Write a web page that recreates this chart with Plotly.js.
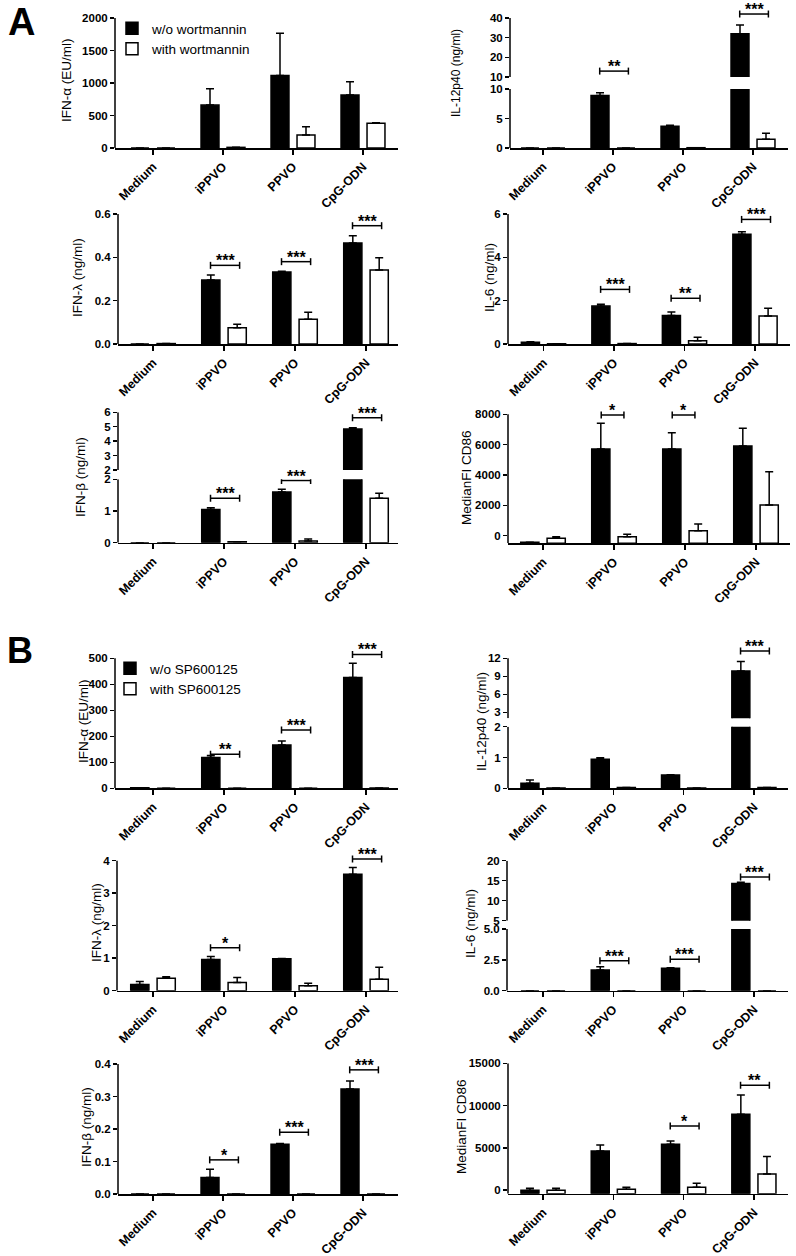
<!DOCTYPE html>
<html><head><meta charset="utf-8">
<script src="https://cdn.plot.ly/plotly-3.0.1.min.js"></script>
<style>html,body{margin:0;padding:0;background:#fff}</style>
</head><body><div id="chart" style="width:796px;height:1256px"></div>
<script>
// ---------------- DATA ----------------
const categories = ['Medium', 'iPPVO', 'PPVO', 'CpG-ODN'];
const seriesA = ['w/o wortmannin', 'with wortmannin'];
const seriesB = ['w/o SP600125', 'with SP600125'];

// Panel A (wortmannin)
const A_IFNa_wo = [0, 660, 1115, 815];
const A_IFNa_wo_err = [0, 250, 650, 205];
const A_IFNa_with = [0, 10, 200, 382];
const A_IFNa_with_err = [0, 0, 128, 8];
const A_IFNa_sig = [];
const A_IFNa_ticks = [0, 500, 1000, 1500, 2000];

const A_IL12_wo = [0, 8.9, 3.7, 32.0];
const A_IL12_wo_err = [0, 0.45, 0.15, 4.4];
const A_IL12_with = [0, 0, 0.05, 1.5];
const A_IL12_with_err = [0, 0, 0, 1.0];
const A_IL12_sig = [[1, 13.0, '**'], [3, 42.0, '***']];
const A_IL12_ticks_low = [0, 5, 10];
const A_IL12_ticks_high = [10, 20, 30, 40];

const A_IFNl_wo = [0, 0.295, 0.332, 0.466];
const A_IFNl_wo_err = [0, 0.023, 0.004, 0.034];
const A_IFNl_with = [0.002, 0.075, 0.114, 0.342];
const A_IFNl_with_err = [0, 0.016, 0.032, 0.056];
const A_IFNl_sig = [[1, 0.363, '***'], [2, 0.38, '***'], [3, 0.546, '***']];
const A_IFNl_ticks = [0, 0.2, 0.4, 0.6];
const A_IFNl_ticktext = ['0.0', '0.2', '0.4', '0.6'];

const A_IL6_wo = [0.08, 1.75, 1.31, 5.06];
const A_IL6_wo_err = [0.02, 0.08, 0.17, 0.12];
const A_IL6_with = [0.01, 0.02, 0.15, 1.29];
const A_IL6_with_err = [0, 0, 0.16, 0.36];
const A_IL6_sig = [[1, 2.52, '***'], [2, 2.11, '**'], [3, 5.75, '***']];
const A_IL6_ticks = [0, 2, 4, 6];

const A_IFNb_wo = [0, 1.05, 1.6, 4.85];
const A_IFNb_wo_err = [0, 0.05, 0.09, 0.08];
const A_IFNb_with = [0, 0.03, 0.05, 1.4];
const A_IFNb_with_err = [0, 0, 0.07, 0.16];
const A_IFNb_sig = [[1, 1.40, '***'], [2, 1.96, '***'], [3, 5.63, '***']];
const A_IFNb_ticks_low = [0, 1, 2];
const A_IFNb_ticks_high = [2, 3, 4, 5, 6];

const A_CD86_wo = [-435, 5710, 5710, 5910];
const A_CD86_wo_err = [0, 1690, 1075, 1165];
const A_CD86_with = [-170, -65, 330, 2020];
const A_CD86_with_err = [105, 155, 440, 2195];
const A_CD86_sig = [[1, 7950, '*'], [2, 7950, '*']];
const A_CD86_ticks = [0, 2000, 4000, 6000, 8000];

// Panel B (SP600125)
const B_IFNa_wo = [2, 118, 167, 426];
const B_IFNa_wo_err = [0, 8, 15, 55];
const B_IFNa_with = [0, 0, 0, 1];
const B_IFNa_with_err = [0, 0, 0, 0];
const B_IFNa_sig = [[1, 131, '**'], [2, 224, '***'], [3, 515, '***']];
const B_IFNa_ticks = [0, 100, 200, 300, 400, 500];

const B_IL12_wo = [0.16, 0.94, 0.43, 9.9];
const B_IL12_wo_err = [0.11, 0.05, 0.01, 1.55];
const B_IL12_with = [0.01, 0.03, 0.01, 0.03];
const B_IL12_with_err = [0, 0, 0, 0];
const B_IL12_sig = [[3, 13.2, '***']];
const B_IL12_ticks_low = [0, 1, 2];
const B_IL12_ticks_high = [3, 6, 9, 12];

const B_IFNl_wo = [0.19, 0.96, 0.98, 3.58];
const B_IFNl_wo_err = [0.09, 0.09, 0.01, 0.21];
const B_IFNl_with = [0.38, 0.25, 0.15, 0.35];
const B_IFNl_with_err = [0.05, 0.16, 0.08, 0.37];
const B_IFNl_sig = [[1, 1.32, '*'], [3, 4.05, '***']];
const B_IFNl_ticks = [0, 1, 2, 3, 4];

const B_IL6_wo = [0, 1.68, 1.81, 14.3];
const B_IL6_wo_err = [0, 0.27, 0.05, 0.3];
const B_IL6_with = [0, 0, 0, 0];
const B_IL6_with_err = [0, 0, 0, 0];
const B_IL6_sig = [[1, 2.43, '***'], [2, 2.54, '***'], [3, 15.9, '***']];
const B_IL6_ticks_low = [0, 2.5, 5];
const B_IL6_ticktext_low = ['0.0', '2.5', '5.0'];
const B_IL6_ticks_high = [5, 10, 15, 20];

const B_IFNb_wo = [0, 0.051, 0.153, 0.323];
const B_IFNb_wo_err = [0, 0.025, 0.002, 0.025];
const B_IFNb_with = [0, 0, 0, 0];
const B_IFNb_with_err = [0, 0, 0, 0];
const B_IFNb_sig = [[1, 0.105, '*'], [2, 0.19, '***'], [3, 0.382, '***']];
const B_IFNb_ticks = [0, 0.1, 0.2, 0.3, 0.4];
const B_IFNb_ticktext = ['0.0', '0.1', '0.2', '0.3', '0.4'];

const B_CD86_wo = [-40, 4620, 5410, 8960];
const B_CD86_wo_err = [250, 710, 390, 2290];
const B_CD86_with = [-40, 80, 320, 1900];
const B_CD86_with_err = [250, 240, 470, 2050];
const B_CD86_sig = [[2, 7580, '*'], [3, 12400, '**']];
const B_CD86_ticks = [0, 5000, 10000, 15000];

// ---------------- PANELS (data + layout geometry in px) ----------------
const panels = [
  {title: 'IFN-α (EU/ml)', wo: A_IFNa_wo, woE: A_IFNa_wo_err, wi: A_IFNa_with, wiE: A_IFNa_with_err, sig: A_IFNa_sig, leg: 'legend', names: seriesA,
   g: {xl: 115, xr: 398, c0: 153, s: 70, tx: 67, ty: 80, ts: 13.5,
       segs: [{pb: 148, pt: 18, r: [0, 2000], top: 2000, tv: A_IFNa_ticks}]}},
  {title: 'IL-12p40 (ng/ml)', wo: A_IL12_wo, woE: A_IL12_wo_err, wi: A_IL12_with, wiE: A_IL12_with_err, sig: A_IL12_sig,
   g: {xl: 510, xr: 788, c0: 543, s: 70, tx: 456, ty: 73, ts: 12,
       segs: [{pb: 148, pt: 89, r: [0, 10], top: 10, tv: A_IL12_ticks_low},
              {pb: 77, pt: 9.1, r: [10, 44.5], top: 40, tv: A_IL12_ticks_high}]}},
  {title: 'IFN-λ (ng/ml)', wo: A_IFNl_wo, woE: A_IFNl_wo_err, wi: A_IFNl_with, wiE: A_IFNl_with_err, sig: A_IFNl_sig,
   g: {xl: 118, xr: 398, c0: 153, s: 71, tx: 77, ty: 278, ts: 13.5,
       segs: [{pb: 344, pt: 214, r: [0, 0.6], top: 0.6, tv: A_IFNl_ticks, tt: A_IFNl_ticktext}]}},
  {title: 'IL-6 (ng/ml)', wo: A_IL6_wo, woE: A_IL6_wo_err, wi: A_IL6_with, wiE: A_IL6_with_err, sig: A_IL6_sig,
   g: {xl: 508, xr: 790, c0: 543.5, s: 70.5, tx: 489, ty: 278, ts: 13.5,
       segs: [{pb: 344, pt: 214, r: [0, 6], top: 6, tv: A_IL6_ticks}]}},
  {title: 'IFN-β (ng/ml)', wo: A_IFNb_wo, woE: A_IFNb_wo_err, wi: A_IFNb_with, wiE: A_IFNb_with_err, sig: A_IFNb_sig,
   g: {xl: 118, xr: 398, c0: 153, s: 71, tx: 81, ty: 477, ts: 13.5,
       segs: [{pb: 542.7, pt: 479.3, r: [0, 2], top: 2, tv: A_IFNb_ticks_low},
              {pb: 470, pt: 412.3, r: [2, 6], top: 6, tv: A_IFNb_ticks_high}]}},
  {title: 'MedianFI CD86', wo: A_CD86_wo, woE: A_CD86_wo_err, wi: A_CD86_with, wiE: A_CD86_with_err, sig: A_CD86_sig, base: -500, bx: [-0.18, 0.14],
   g: {xl: 508, xr: 790, c0: 543, s: 71, tx: 466, ty: 478, ts: 13.5,
       segs: [{pb: 543.3, pt: 409.7, r: [-500, 8300], top: 8000, tv: A_CD86_ticks}]}},
  {title: 'IFN-α (EU/ml)', wo: B_IFNa_wo, woE: B_IFNa_wo_err, wi: B_IFNa_with, wiE: B_IFNa_with_err, sig: B_IFNa_sig, leg: 'legend2', names: seriesB,
   g: {xl: 115, xr: 398, c0: 153, s: 71, tx: 83, ty: 721, ts: 13.5,
       segs: [{pb: 788.3, pt: 650.5, r: [0, 530], top: 500, tv: B_IFNa_ticks}]}},
  {title: 'IL-12p40 (ng/ml)', wo: B_IL12_wo, woE: B_IL12_wo_err, wi: B_IL12_with, wiE: B_IL12_with_err, sig: B_IL12_sig,
   g: {xl: 508, xr: 788, c0: 543, s: 70.3, tx: 481, ty: 722, ts: 13.5,
       segs: [{pb: 788.3, pt: 726.7, r: [0, 2], top: 2, tv: B_IL12_ticks_low},
              {pb: 718.3, pt: 646.3, r: [2, 14], top: 12, tv: B_IL12_ticks_high}]}},
  {title: 'IFN-λ (ng/ml)', wo: B_IFNl_wo, woE: B_IFNl_wo_err, wi: B_IFNl_with, wiE: B_IFNl_with_err, sig: B_IFNl_sig,
   g: {xl: 117, xr: 398, c0: 153, s: 71, tx: 96, ty: 923, ts: 13.5,
       segs: [{pb: 990.7, pt: 854.2, r: [0, 4.2], top: 4, tv: B_IFNl_ticks}]}},
  {title: 'IL-6 (ng/ml)', wo: B_IL6_wo, woE: B_IL6_wo_err, wi: B_IL6_with, wiE: B_IL6_with_err, sig: B_IL6_sig,
   g: {xl: 507, xr: 788, c0: 543, s: 70.3, tx: 470, ty: 923, ts: 13.5,
       segs: [{pb: 990.7, pt: 929, r: [0, 5], top: 5, tv: B_IL6_ticks_low, tt: B_IL6_ticktext_low},
              {pb: 920.7, pt: 860.7, r: [5, 20], top: 20, tv: B_IL6_ticks_high}]}},
  {title: 'IFN-β (ng/ml)', wo: B_IFNb_wo, woE: B_IFNb_wo_err, wi: B_IFNb_with, wiE: B_IFNb_with_err, sig: B_IFNb_sig,
   g: {xl: 118, xr: 398, c0: 153, s: 70, tx: 86, ty: 1127, ts: 13.5,
       segs: [{pb: 1194, pt: 1064, r: [0, 0.4], top: 0.4, tv: B_IFNb_ticks, tt: B_IFNb_ticktext}]}},
  {title: 'MedianFI CD86', wo: B_CD86_wo, woE: B_CD86_wo_err, wi: B_CD86_with, wiE: B_CD86_with_err, sig: B_CD86_sig, base: -440,
   g: {xl: 508, xr: 788, c0: 543, s: 70.3, tx: 461, ty: 1127, ts: 13.5,
       segs: [{pb: 1193.7, pt: 1063.3, r: [-440, 15000], top: 15000, tv: B_CD86_ticks}]}}
];

// ---------------- BUILD ----------------
const W = 796, H = 1256;
const fx = p => p / W, fy = p => 1 - p / H;
const FONT = 'Arial, "Liberation Sans", Helvetica, sans-serif';
const traces = [], shapes = [], annotations = [];
const layout = {
  width: W, height: H, margin: {l: 0, r: 0, t: 0, b: 0},
  barmode: 'group', bargap: 0.257, bargroupgap: 0.31,
  paper_bgcolor: '#ffffff', plot_bgcolor: 'rgba(0,0,0,0)',
  font: {family: FONT, color: '#000'}, hovermode: false, showlegend: true,
  shapes, annotations,
  legend: {x: fx(112), y: fy(13), xanchor: 'left', yanchor: 'top', bgcolor: 'rgba(0,0,0,0)',
           font: {size: 13.5, family: FONT, color: '#000'}, itemwidth: 30, tracegroupgap: 0, traceorder: 'normal'},
  legend2: {x: fx(110), y: fy(653), xanchor: 'left', yanchor: 'top', bgcolor: 'rgba(0,0,0,0)',
            font: {size: 13.5, family: FONT, color: '#000'}, itemwidth: 30, tracegroupgap: 0, traceorder: 'normal'}
};
const xs = categories.map((c, j) => j);
let yCount = 0;
panels.forEach((p, i) => {
  const xn = i + 1;
  const xid = 'x' + (xn === 1 ? '' : xn);
  const xkey = 'xaxis' + (xn === 1 ? '' : xn);
  const g = p.g;
  const segIds = [];
  g.segs.forEach((sg, k) => {
    yCount++;
    const yid = 'y' + (yCount === 1 ? '' : yCount);
    const ykey = 'yaxis' + (yCount === 1 ? '' : yCount);
    segIds.push({yid, sg});
    layout[ykey] = {
      domain: [fy(sg.pb), fy(sg.pt)], range: sg.r, anchor: xid,
      showline: false, zeroline: false, showgrid: false,
      ticks: 'outside', ticklen: 4, tickwidth: 1.5, tickcolor: '#000',
      tickmode: 'array', tickvals: sg.tv, ticktext: sg.tt || sg.tv.map(String),
      tickfont: {size: 11.5, weight: 'bold', family: FONT, color: '#000'}, fixedrange: true
    };
    shapes.push({type: 'line', xref: xid + ' domain', yref: yid, x0: 0, x1: 0, y0: sg.r[0], y1: sg.top,
                 line: {color: '#000', width: 1.5}, layer: 'above'});
    const mk = (vals, errs, fill, name, show) => ({
      type: 'bar', x: xs,
      y: p.base !== undefined ? vals.map(v => v - p.base) : vals,
      base: p.base, xaxis: xid, yaxis: yid, name: name || '', showlegend: !!show,
      legend: p.leg || 'legend',
      marker: {color: fill, line: {color: '#000', width: 1.5}},
      error_y: {type: 'data', symmetric: false, array: errs, arrayminus: errs.map(() => 0),
                color: '#000', thickness: 1.5, width: 4},
      hoverinfo: 'skip'
    });
    const show = p.leg && k === 0;
    traces.push(mk(p.wo, p.woE, '#000000', p.names ? p.names[0] : '', show));
    traces.push(mk(p.wi, p.wiE, '#ffffff', p.names ? p.names[1] : '', show));
  });
  layout[xkey] = {
    domain: [fx(g.xl), fx(g.xr)], range: [(g.xl - g.c0) / g.s, (g.xr - g.c0) / g.s],
    anchor: segIds[0].yid, showline: true, linewidth: 1.5, linecolor: '#000',
    ticks: 'outside', ticklen: 5, tickwidth: 1.5, tickcolor: '#000',
    tickmode: 'array', tickvals: xs, ticktext: categories, tickangle: -45,
    tickfont: {size: 12.5, weight: 'bold', family: FONT, color: '#000'},
    zeroline: false, showgrid: false, fixedrange: true
  };
  // significance brackets
  const bx = p.bx || [-0.19, 0.22];
  p.sig.forEach(([cat, yv, lab]) => {
    let seg = segIds[0];
    segIds.forEach(s => { if (yv >= s.sg.r[0]) seg = s; });
    const x0 = cat + bx[0], x1 = cat + bx[1];
    shapes.push({type: 'line', xref: xid, yref: seg.yid, x0, x1, y0: yv, y1: yv, line: {color: '#000', width: 1.5}, layer: 'above'});
    [x0, x1].forEach(xe => shapes.push({type: 'line', xref: xid, yref: seg.yid, x0: xe, x1: xe,
      ysizemode: 'pixel', yanchor: yv, y0: -3.5, y1: 3.5, line: {color: '#000', width: 1.5}, layer: 'above'}));
    annotations.push({xref: xid, yref: seg.yid, x: (x0 + x1) / 2, y: yv, text: lab, showarrow: false,
      yanchor: 'bottom', yshift: -6, font: {size: 16, weight: 'bold', family: FONT, color: '#000'}});
  });
  // y title
  annotations.push({xref: 'paper', yref: 'paper', x: fx(g.tx), y: fy(g.ty), text: p.title, textangle: -90,
    showarrow: false, xanchor: 'center', yanchor: 'middle', font: {size: g.ts, family: FONT, color: '#000'}});
});
annotations.push({xref: 'paper', yref: 'paper', x: fx(21), y: fy(22), text: 'A', showarrow: false,
  xanchor: 'center', yanchor: 'middle', font: {size: 38, weight: 'bold', family: FONT, color: '#000'}});
annotations.push({xref: 'paper', yref: 'paper', x: fx(20), y: fy(650), text: 'B', showarrow: false,
  xanchor: 'center', yanchor: 'middle', font: {size: 36, weight: 'bold', family: FONT, color: '#000'}});

Plotly.newPlot('chart', traces, layout, {staticPlot: true, displayModeBar: false});
</script></body></html>
